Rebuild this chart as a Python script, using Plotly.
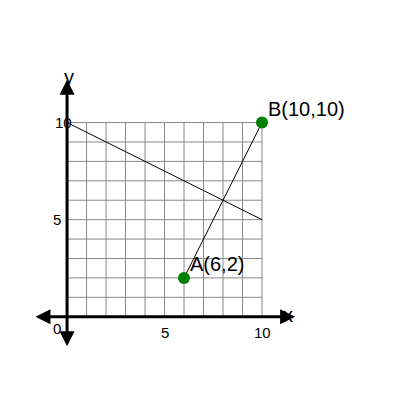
import plotly.graph_objects as go

grid_max = 10
line1_x = [0, 10]
line1_y = [10, 5]
line2_x = [6, 10]
line2_y = [2, 10]
pt_x = [6, 10]
pt_y = [2, 10]
pt_labels = ["A(6,2)", "B(10,10)"]
xtick_vals = [0, 5, 10]
ytick_vals = [5, 10]

fig = go.Figure()

shapes = []
for i in range(grid_max + 1):
    shapes.append(dict(type="line", x0=i, x1=i, y0=0, y1=grid_max,
                       line=dict(color="#888", width=1), layer="below"))
    shapes.append(dict(type="line", x0=0, x1=grid_max, y0=i, y1=i,
                       line=dict(color="#888", width=1), layer="below"))

fig.add_trace(go.Scatter(x=line1_x, y=line1_y, mode="lines",
                         line=dict(color="black", width=1)))
fig.add_trace(go.Scatter(x=line2_x, y=line2_y, mode="lines",
                         line=dict(color="black", width=1)))
fig.add_trace(go.Scatter(x=pt_x, y=pt_y, mode="markers",
                         marker=dict(color="green", size=12)))

ann = [
    dict(x=11.7, y=0, ax=-1.7, ay=0, xref="x", yref="y", axref="x", ayref="y",
         showarrow=True, arrowside="end+start", arrowhead=2, arrowsize=1,
         arrowwidth=3, arrowcolor="black", text=""),
    dict(x=0, y=12.2, ax=0, ay=-1.6, xref="x", yref="y", axref="x", ayref="y",
         showarrow=True, arrowside="end+start", arrowhead=2, arrowsize=1,
         arrowwidth=3, arrowcolor="black", text=""),
    dict(x=11.0, y=0.1, text="x", showarrow=False, xanchor="left",
         font=dict(size=20, color="black")),
    dict(x=0.1, y=11.7, text="y", showarrow=False, yanchor="bottom",
         font=dict(size=20, color="black")),
    dict(x=-0.5, y=-0.6, text="0", showarrow=False, font=dict(size=15, color="black")),
]
for x, y, t in zip(pt_x, pt_y, pt_labels):
    ann.append(dict(x=x + 0.2, y=y + 0.05, text=t, showarrow=False, xanchor="left",
                    yanchor="bottom", font=dict(size=20, color="black")))
for v in xtick_vals[1:]:
    ann.append(dict(x=v, y=-0.8, text=str(v), showarrow=False,
                    font=dict(size=15, color="black")))
for v in ytick_vals:
    ann.append(dict(x=-0.5 if v < 10 else -0.2, y=v, text=str(v), showarrow=False,
                    font=dict(size=15, color="black")))

fig.update_layout(
    width=400, height=400, margin=dict(l=0, r=0, t=0, b=0),
    plot_bgcolor="white", paper_bgcolor="white", showlegend=False,
    xaxis=dict(range=[-3.03, 17.49], visible=False),
    yaxis=dict(range=[-4.7, 15.9], visible=False),
    shapes=shapes, annotations=ann,
    font=dict(family="Liberation Sans"),
)
fig.write_html("out.html")
